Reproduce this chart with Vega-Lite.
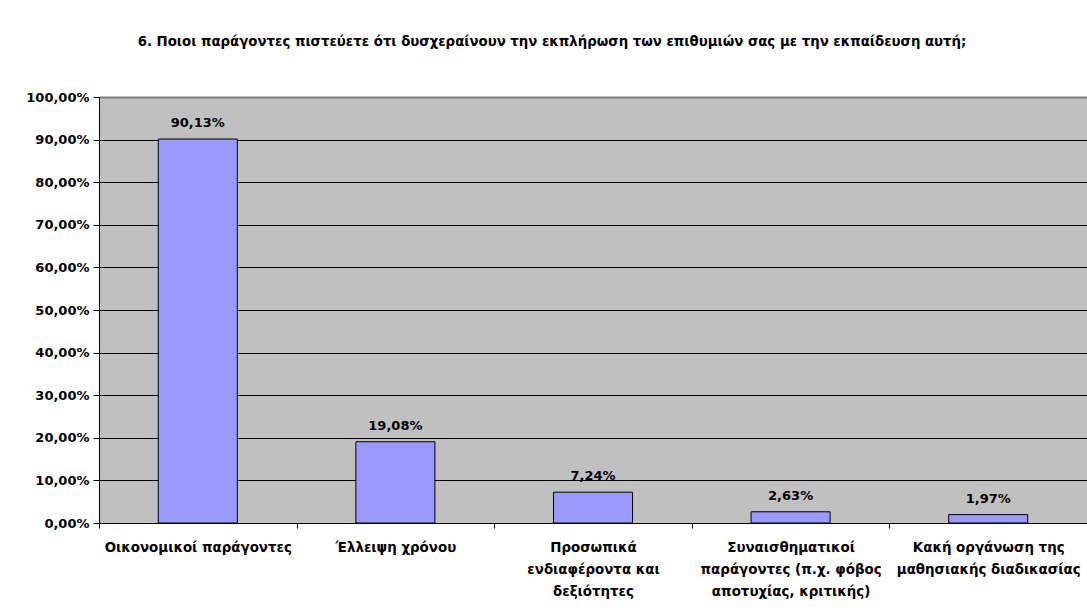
{
  "$schema": "https://vega.github.io/schema/vega-lite/v6.json",
  "autosize": "none",
  "width": 988,
  "height": 426,
  "padding": {"left": 99, "top": 97, "right": 0, "bottom": 89},
  "background": "white",
  "title": {
    "text": "6. Ποιοι παράγοντες πιστεύετε ότι δυσχεραίνουν την εκπλήρωση των επιθυμιών σας με την εκπαίδευση αυτή;",
    "font": "DejaVu Sans",
    "fontSize": 13.3,
    "fontWeight": "bold",
    "color": "black",
    "anchor": "middle",
    "dx": -41,
    "offset": 43
  },
  "data": {
    "values": [
      {"factor": "Οικονομικοί παράγοντες", "share": 0.9013},
      {"factor": "Έλλειψη χρόνου", "share": 0.1908},
      {"factor": "Προσωπικά ενδιαφέροντα και δεξιότητες", "share": 0.0724},
      {"factor": "Συναισθηματικοί παράγοντες (π.χ. φόβος αποτυχίας, κριτικής)", "share": 0.0263},
      {"factor": "Κακή οργάνωση της μαθησιακής διαδικασίας", "share": 0.0197}
    ]
  },
  "encoding": {
    "x": {
      "field": "factor",
      "type": "nominal",
      "sort": null,
      "scale": {"paddingInner": 0, "paddingOuter": 0},
      "axis": {
        "title": null,
        "labelAngle": 0,
        "tickBand": "extent",
        "domainColor": "black",
        "tickColor": "black",
        "tickSize": 5,
        "labelFont": "DejaVu Sans",
        "labelFontSize": 13.4,
        "labelFontWeight": "bold",
        "labelColor": "black",
        "labelPadding": 12,
        "labelLineHeight": 22,
        "labelLimit": 0,
        "labelOverlap": false,
        "labelExpr": "{'Οικονομικοί παράγοντες': 'Οικονομικοί παράγοντες', 'Έλλειψη χρόνου': 'Έλλειψη χρόνου', 'Προσωπικά ενδιαφέροντα και δεξιότητες': ['Προσωπικά', 'ενδιαφέροντα και', 'δεξιότητες'], 'Συναισθηματικοί παράγοντες (π.χ. φόβος αποτυχίας, κριτικής)': ['Συναισθηματικοί', 'παράγοντες (π.χ. φόβος', 'αποτυχίας, κριτικής)'], 'Κακή οργάνωση της μαθησιακής διαδικασίας': ['Κακή οργάνωση της', 'μαθησιακής διαδικασίας']}[datum.value]"
      }
    },
    "y": {
      "field": "share",
      "type": "quantitative",
      "scale": {"domain": [0, 1], "nice": false},
      "axis": {
        "title": null,
        "format": ".2%",
        "values": [0, 0.1, 0.2, 0.3, 0.4, 0.5, 0.6, 0.7, 0.8, 0.9, 1],
        "labelOverlap": false,
        "grid": true,
        "gridColor": {"condition": {"test": "datum.value >= 1", "value": "#808080"}, "value": "black"},
        "gridWidth": {"condition": {"test": "datum.value >= 1", "value": 2}, "value": 1},
        "gridOpacity": 1,
        "domainColor": "black",
        "tickColor": "black",
        "tickSize": 6,
        "labelFont": "DejaVu Sans",
        "labelFontSize": 13,
        "labelFontWeight": "bold",
        "labelColor": "black",
        "labelPadding": 4
      }
    }
  },
  "layer": [
    {
      "mark": {"type": "bar", "width": {"band": 0.4}, "fill": "#9999FF", "stroke": "black", "strokeWidth": 1}
    },
    {
      "mark": {"type": "text", "dy": -12, "baseline": "alphabetic", "font": "DejaVu Sans", "fontSize": 13, "fontWeight": "bold", "color": "black"},
      "encoding": {
        "text": {"field": "share", "type": "quantitative", "format": ".2%"}
      }
    }
  ],
  "config": {
    "locale": {"number": {"decimal": ",", "thousands": ".", "grouping": [3], "currency": ["", " €"]}},
    "view": {"fill": "#C0C0C0", "stroke": null},
    "axis": {"domainWidth": 1, "tickWidth": 1}
  }
}
